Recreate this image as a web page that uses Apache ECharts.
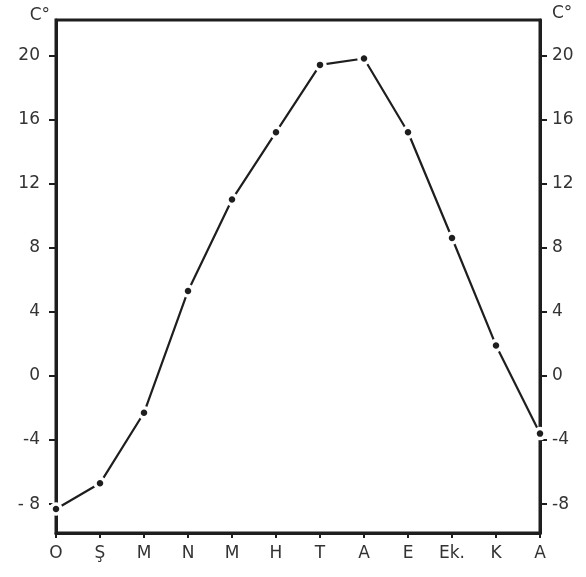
<!DOCTYPE html>
<html>
<head>
<meta charset="utf-8">
<script src="https://cdn.jsdelivr.net/npm/echarts@6/dist/echarts.min.js"></script>
<style>
  html, body { margin: 0; padding: 0; background: #fff; }
  #chart { width: 586px; height: 577px; }
</style>
</head>
<body>
<div id="chart"></div>
<script>
// months (Turkish initials) and monthly mean temperature, °C
const months = ['O', 'Ş', 'M', 'N', 'M', 'H', 'T', 'A', 'E', 'Ek.', 'K', 'A']
const temps = [-8.3, -6.7, -2.3, 5.3, 11.0, 15.2, 19.4, 19.8, 15.2, 8.6, 1.9, -3.6]
const yTicks = [-8, -4, 0, 4, 8, 12, 16, 20]

const ink = '#1e1e1e'
const labelColor = '#333'
const font = 'DejaVu Sans'

function yAxisFor(side) {
  const left = side === 'left'
  return {
    type: 'value',
    position: side,
    min: -9.8,
    max: 22.2,
    name: 'C°',
    nameLocation: 'end',
    nameGap: left ? 4 : 6,
    nameTextStyle: {
      color: labelColor, fontSize: 17, fontFamily: font,
      align: left ? 'right' : 'left',
      verticalAlign: 'middle',
      padding: left ? [0, 6, 0, 0] : [0, 0, 0, 12],
    },
    axisLine: { show: true, onZero: false, lineStyle: { color: ink, width: 3 } },
    axisTick: { show: true, inside: false, length: 7, customValues: yTicks, lineStyle: { color: ink, width: 2 } },
    axisLabel: {
      customValues: yTicks,
      color: labelColor, fontSize: 17, fontFamily: font,
      margin: left ? 16 : 12,
      formatter: v => (left && v < -5) ? '- ' + Math.abs(v) : String(v),
    },
    splitLine: { show: false },
  }
}

const chart = echarts.init(document.getElementById('chart'))
chart.setOption({
  animation: false,
  backgroundColor: '#fff',
  grid: {
    left: 56, right: 46, top: 20, bottom: 44,
    show: true, borderColor: ink, borderWidth: 3,
  },
  xAxis: {
    type: 'category',
    data: months,
    boundaryGap: false,
    axisLine: { show: true, onZero: false, lineStyle: { color: ink, width: 3 } },
    axisTick: { show: true, length: 5, lineStyle: { color: ink, width: 2 } },
    axisLabel: { color: labelColor, fontSize: 17, fontFamily: font, margin: 12, interval: 0 },
    splitLine: { show: false },
  },
  yAxis: [yAxisFor('left'), yAxisFor('right')],
  series: [{
    type: 'line',
    data: temps,
    yAxisIndex: 0,
    symbol: 'circle',
    symbolSize: 10,
    showSymbol: true,
    itemStyle: { color: ink, borderColor: '#fff', borderWidth: 3.5 },
    lineStyle: { color: ink, width: 2.2 },
    z: 3,
  }],
})
</script>
</body>
</html>
